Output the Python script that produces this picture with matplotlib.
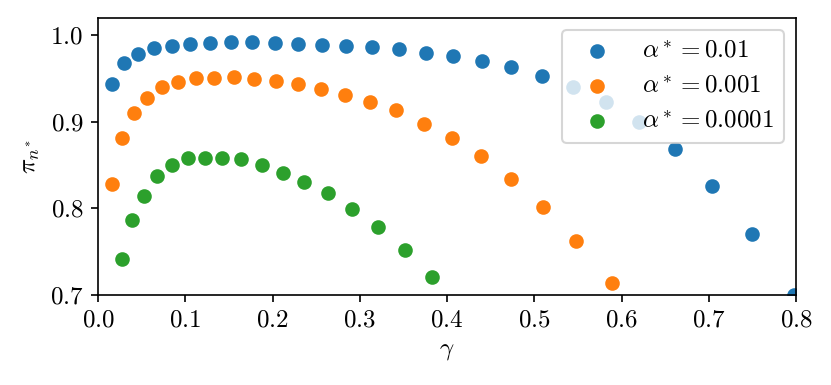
import matplotlib
matplotlib.use("Agg")
import matplotlib.pyplot as plt

plt.rcParams.update({
    "font.family": "serif",
    "font.serif": ["cmr10"],
    "mathtext.fontset": "cm",
    "axes.formatter.use_mathtext": True,
    "axes.unicode_minus": False,
    "font.size": 12,
})

# gamma / pi values
gamma_a = [0.0164, 0.0298, 0.0459, 0.0642, 0.0844, 0.1058, 0.1284, 0.152, 0.1769,
           0.2029, 0.2296, 0.2567, 0.284, 0.3144, 0.3446, 0.3756, 0.4073, 0.4401,
           0.4737, 0.5085, 0.5448, 0.5819, 0.6201, 0.661, 0.7037, 0.7492, 0.798]
pi_a = [0.9435, 0.967, 0.978, 0.9846, 0.9877, 0.9896, 0.9904, 0.9912, 0.9912,
        0.9904, 0.9893, 0.9885, 0.987, 0.9858, 0.9835, 0.9796, 0.9758, 0.9704,
        0.9627, 0.9527, 0.9404, 0.9223, 0.8996, 0.8681, 0.8261, 0.7704, 0.7003]

gamma_b = [0.0164, 0.0275, 0.0409, 0.0562, 0.0734, 0.092, 0.112, 0.133, 0.1555,
           0.1792, 0.2037, 0.2289, 0.2556, 0.283, 0.3121, 0.3419, 0.3733, 0.4057,
           0.439, 0.4737, 0.5104, 0.5479, 0.5891]
pi_b = [0.8281, 0.8808, 0.9097, 0.9273, 0.9397, 0.9461, 0.95, 0.9508, 0.9515,
        0.9496, 0.9473, 0.9435, 0.938, 0.9311, 0.9227, 0.9131, 0.8973, 0.8815,
        0.8604, 0.8339, 0.8012, 0.7623, 0.7135]

gamma_c = [0.0271, 0.039, 0.0527, 0.068, 0.0844, 0.1028, 0.1226, 0.1425, 0.1643,
           0.1876, 0.212, 0.2364, 0.264, 0.2915, 0.3209, 0.3514, 0.3832]
pi_c = [0.7419, 0.7865, 0.8146, 0.8373, 0.85, 0.8577, 0.8585, 0.8585, 0.8569,
        0.85, 0.8411, 0.8308, 0.8173, 0.7996, 0.7788, 0.7523, 0.7208]

labels = [r"$\alpha^* = 0.01$", r"$\alpha^* = 0.001$", r"$\alpha^* = 0.0001$"]

fig = plt.figure(figsize=(831 / 150, 385 / 150), dpi=150)
ax = fig.add_axes([98 / 831, 1 - 295 / 385, 698 / 831, (295 - 17.5) / 385])

ax.scatter(gamma_a, pi_a, label=labels[0])
ax.scatter(gamma_b, pi_b, label=labels[1])
ax.scatter(gamma_c, pi_c, label=labels[2])

ax.set_xlim(0, 0.8)
ax.set_ylim(0.7, 1.02)
ax.set_yticks([0.7, 0.8, 0.9, 1.0])
ax.set_xlabel(r"$\gamma$")
ax.set_ylabel(r"$\pi_{n^*}$")
ax.legend(loc="upper right")

fig.savefig("out.png", dpi=150)
